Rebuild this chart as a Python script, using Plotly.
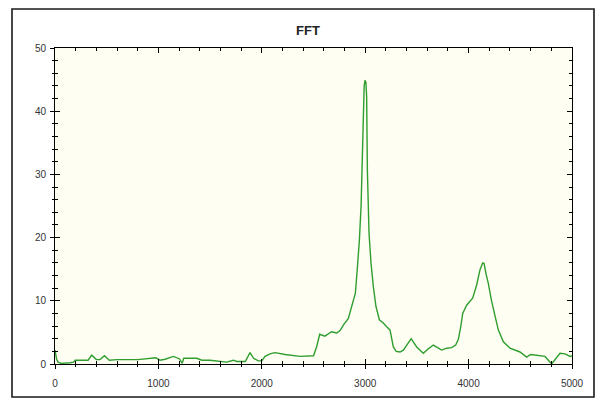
import plotly.graph_objects as go

freq_hz = [0, 15, 30, 60, 145, 180, 195, 320, 355, 400, 435, 478, 525, 600, 800, 975, 1015, 1065,
           1145, 1205, 1230, 1245, 1370, 1420, 1500, 1595, 1660, 1725, 1757, 1840, 1886, 1920,
           1966, 2000, 2031, 2080, 2128, 2225, 2290, 2370, 2500, 2530, 2560, 2610, 2675, 2725,
           2757, 2790, 2837, 2869, 2905, 2924, 2943, 2960, 2972, 2982, 2990, 2998, 3007, 3014,
           3021, 3037, 3056, 3079, 3104, 3137, 3175, 3208, 3240, 3272, 3300, 3337, 3369, 3410,
           3445, 3498, 3562, 3610, 3659, 3700, 3740, 3790, 3836, 3875, 3901, 3925, 3943, 3981,
           4039, 4078, 4110, 4136, 4150, 4168, 4190, 4223, 4255, 4287, 4336, 4400, 4497, 4561,
           4600, 4640, 4739, 4803, 4840, 4884, 4932, 4981, 5000]
magnitude = [2.2, 0.8, 0.3, 0.1, 0.2, 0.3, 0.6, 0.6, 1.4, 0.7, 0.7, 1.3, 0.6, 0.7, 0.7, 1.0, 0.6, 0.75,
             1.2, 0.8, 0.1, 0.9, 0.9, 0.6, 0.6, 0.4, 0.3, 0.6, 0.4, 0.4, 1.8, 0.9,
             0.5, 0.5, 1.2, 1.6, 1.8, 1.5, 1.4, 1.2, 1.3, 2.7, 4.7, 4.4, 5.1, 4.9,
             5.3, 6.2, 7.2, 9.1, 11.2, 15.2, 19.4, 24.9, 34.6, 42.8, 44.0, 44.9, 44.5, 42.3,
             30.7, 20.7, 16.0, 12.2, 9.1, 7.0, 6.5, 5.9, 5.4, 2.7, 2.0, 1.9, 2.2, 3.2,
             4.0, 2.7, 1.7, 2.4, 3.0, 2.6, 2.2, 2.5, 2.6, 3.0, 3.9, 6.0, 8.0, 9.3,
             10.4, 12.5, 14.9, 16.0, 15.9, 14.3, 12.8, 9.9, 7.8, 5.4, 3.5, 2.5, 1.9, 1.1,
             1.5, 1.4, 1.2, 0.0, 0.8, 1.7, 1.6, 1.2, 1.3]

x_ticks = [0, 1000, 2000, 3000, 4000, 5000]
y_ticks = [0, 10, 20, 30, 40, 50]
title_text = "FFT"

# page body has an 8px margin: figure occupies screen 8..605 x 8..401
W, H = 597, 393
ML, MT = 47, 40
PW, PH = 517, 316

fig = go.Figure()
fig.add_trace(go.Scatter(x=freq_hz, y=magnitude, mode="lines",
                         line=dict(color="#2f9e2f", width=1.4), showlegend=False,
                         hoverinfo="skip"))
# dummy trace so the overlay axes (outside tick halves) are drawn
fig.add_trace(go.Scatter(x=[None], y=[None], xaxis="x2", yaxis="y2", mode="lines",
                         showlegend=False, hoverinfo="skip"))

tickfont = dict(family="Liberation Sans, Arial, sans-serif", size=10, color="#333333")
common = dict(showgrid=False, zeroline=False, showline=True, linecolor="black", linewidth=1,
              tickcolor="black", tickwidth=1)

fig.update_layout(
    width=W, height=H,
    margin=dict(l=ML, r=W - ML - PW, t=MT, b=H - MT - PH, autoexpand=False),
    paper_bgcolor="white",
    plot_bgcolor="#fefef2",
    title=dict(text="<b>" + title_text + "</b>", x=(308 - 8) / W, xanchor="center",
               y=1 - (30 - 8) / H, yanchor="middle",
               font=dict(family="Liberation Sans, Arial, sans-serif", size=13, color="#222222")),
    xaxis=dict(range=[0, 5000], tickvals=x_ticks, ticktext=[str(v) for v in x_ticks],
               ticks="inside", ticklen=5, mirror="allticks",
               minor=dict(dtick=200, ticks="inside", ticklen=3, tickcolor="black"),
               tickfont=tickfont, ticklabelstandoff=10, **common),
    yaxis=dict(range=[0, 50], tickvals=y_ticks, ticktext=[str(v) for v in y_ticks],
               ticks="inside", ticklen=5, mirror="allticks",
               minor=dict(dtick=2, ticks="inside", ticklen=3, tickcolor="black"),
               tickfont=tickfont, ticklabelstandoff=6, **common),
    xaxis2=dict(range=[0, 5000], overlaying="x", side="bottom", tickvals=x_ticks,
                ticks="outside", ticklen=4, showticklabels=False,
                minor=dict(dtick=200, ticks="outside", ticklen=2, tickcolor="black"),
                **common),
    yaxis2=dict(range=[0, 50], overlaying="y", side="left", tickvals=y_ticks,
                ticks="outside", ticklen=4, showticklabels=False,
                minor=dict(dtick=2, ticks="outside", ticklen=2, tickcolor="black"),
                **common),
)

# outer frame around the whole chart (screen coords 12..594 x 8..397)
fig.add_shape(type="rect", xref="paper", yref="paper",
              x0=(12 - 55) / PW, x1=(594 - 55) / PW,
              y0=(364 - 397) / PH, y1=(364 - 9) / PH,
              line=dict(color="#1a1a1a", width=1.6), fillcolor="rgba(0,0,0,0)", layer="below")

fig.write_html("out.html")
